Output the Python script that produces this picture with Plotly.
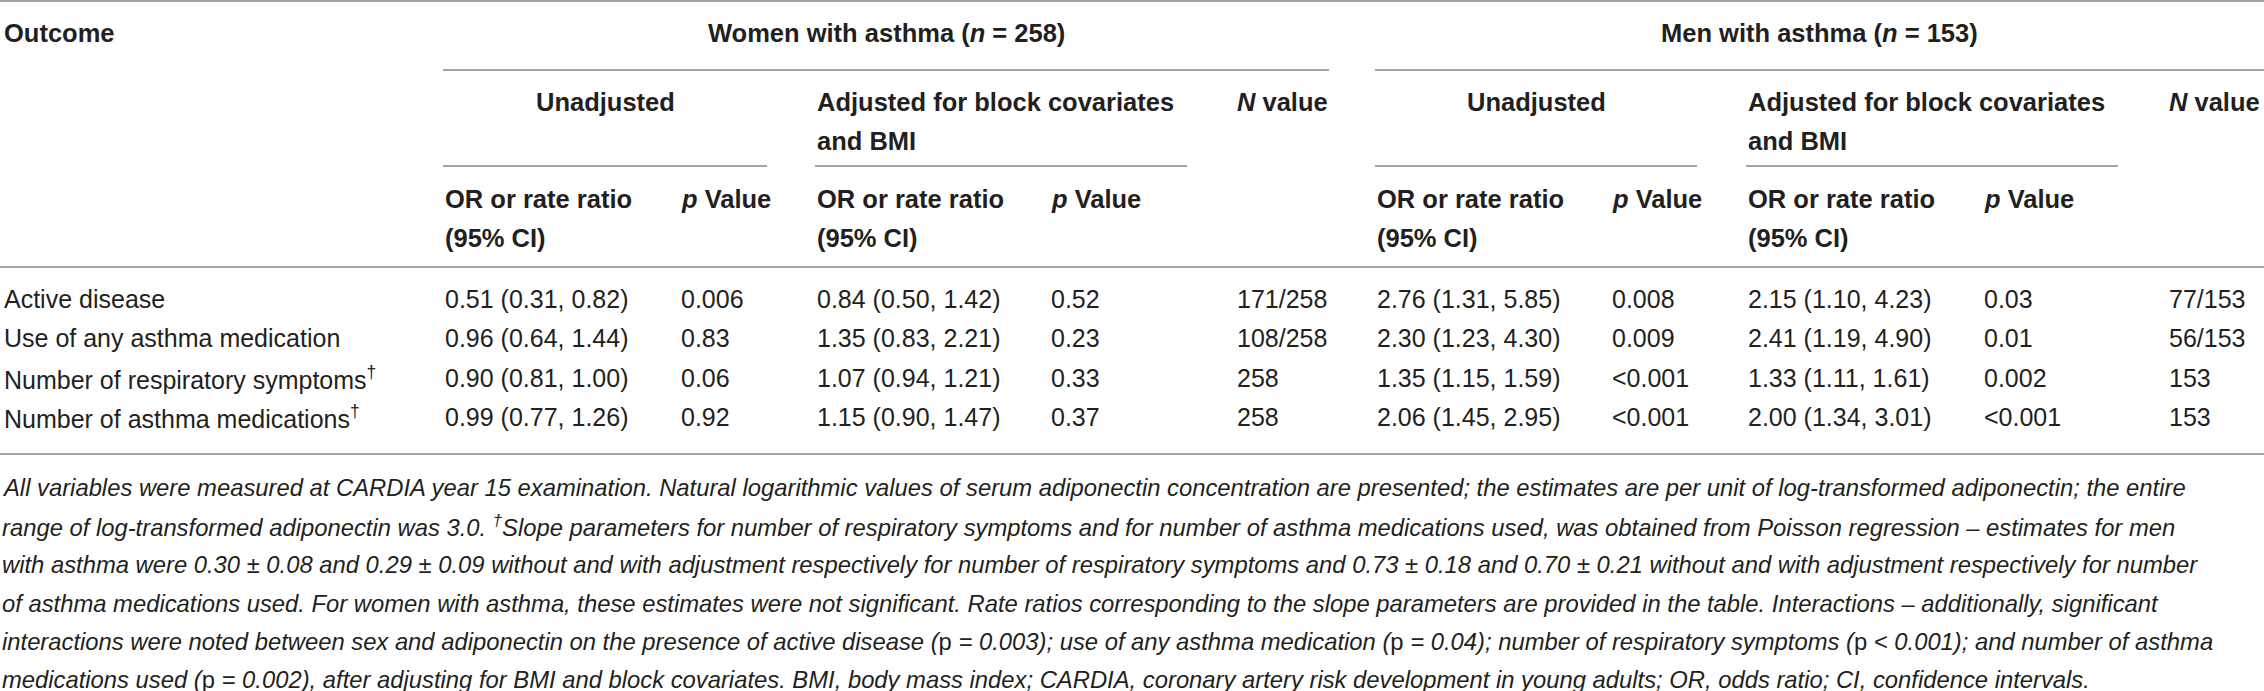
import plotly.graph_objects as go

# ---------------------------------------------------------------------------
# table data
# ---------------------------------------------------------------------------
outcomes = ["Active disease", "Use of any asthma medication",
            "Number of respiratory symptoms<sup>†</sup>",
            "Number of asthma medications<sup>†</sup>"]

women_unadj_or = ["0.51 (0.31, 0.82)", "0.96 (0.64, 1.44)", "0.90 (0.81, 1.00)", "0.99 (0.77, 1.26)"]
women_unadj_p = ["0.006", "0.83", "0.06", "0.92"]
women_adj_or = ["0.84 (0.50, 1.42)", "1.35 (0.83, 2.21)", "1.07 (0.94, 1.21)", "1.15 (0.90, 1.47)"]
women_adj_p = ["0.52", "0.23", "0.33", "0.37"]
women_n = ["171/258", "108/258", "258", "258"]

men_unadj_or = ["2.76 (1.31, 5.85)", "2.30 (1.23, 4.30)", "1.35 (1.15, 1.59)", "2.06 (1.45, 2.95)"]
men_unadj_p = ["0.008", "0.009", "<0.001", "<0.001"]
men_adj_or = ["2.15 (1.10, 4.23)", "2.41 (1.19, 4.90)", "1.33 (1.11, 1.61)", "2.00 (1.34, 3.01)"]
men_adj_p = ["0.03", "0.01", "0.002", "<0.001"]
men_n = ["77/153", "56/153", "153", "153"]

group_titles = ["Women with asthma (<i>n</i> = 258)", "Men with asthma (<i>n</i> = 153)"]

footnote_lines = [
    "All variables were measured at CARDIA year 15 examination. Natural logarithmic values of serum adiponectin "
    "concentration are presented; the estimates are per unit of log-transformed adiponectin; the entire",
    "range of log-transformed adiponectin was 3.0. <sup>†</sup>Slope parameters for number of respiratory symptoms "
    "and for number of asthma medications used, was obtained from Poisson regression – estimates for men",
    "with asthma were 0.30 ± 0.08 and 0.29 ± 0.09 without and with adjustment respectively for number of "
    "respiratory symptoms and 0.73 ± 0.18 and 0.70 ± 0.21 without and with adjustment respectively for number",
    "of asthma medications used. For women with asthma, these estimates were not significant. Rate ratios "
    "corresponding to the slope parameters are provided in the table. Interactions – additionally, significant",
    "interactions were noted between sex and adiponectin on the presence of active disease (p = 0.003); use of any "
    "asthma medication (p = 0.04); number of respiratory symptoms (p < 0.001); and number of asthma",
    "medications used (p = 0.002), after adjusting for BMI and block covariates. BMI, body mass index; CARDIA, "
    "coronary artery risk development in young adults; OR, odds ratio; CI, confidence intervals.",
]

# ---------------------------------------------------------------------------
# layout constants (pixels, y measured from the top)
# ---------------------------------------------------------------------------
W, H = 2264, 691
FONT = "Liberation Sans, Arial, Helvetica, sans-serif"
TEXT = "#231f20"
RULE = "#a3a3a3"

col_x = [2, 443, 679, 815, 1049, 1235, 1375, 1610, 1746, 1982, 2167]
row_y = [299, 338, 378, 417]
foot_y = [487, 526, 564, 603, 641, 679]


def esc(s):
    return s.replace("<0", "&lt;0").replace("p < ", "p &lt; ")


fig = go.Figure()
# invisible trace so the axes exist
fig.add_trace(go.Scatter(x=[0, W], y=[0, H], mode="markers",
                         marker=dict(opacity=0), hoverinfo="skip", showlegend=False))


def txt(x, y, s, size=25, anchor="left"):
    fig.add_annotation(x=x, y=y, xref="x", yref="y", text=s, showarrow=False,
                       xanchor=anchor, yanchor="middle", align=anchor,
                       font=dict(family=FONT, size=size, color=TEXT))


def rule(x0, x1, y):
    fig.add_shape(type="line", xref="x", yref="y", x0=x0, x1=x1, y0=y, y1=y,
                  line=dict(color=RULE, width=2))


# rules
rule(0, W, 1)
rule(col_x[1], 1329, 70)
rule(col_x[6], W, 70)
rule(col_x[1], 767, 166)
rule(col_x[3], 1187, 166)
rule(col_x[6], 1697, 166)
rule(col_x[8], 2118, 166)
rule(0, W, 267)
rule(0, W, 454)

# header
HB = 25.5
txt(col_x[0], 33, "<b>Outcome</b>", HB)
txt((col_x[1] + 1329) / 2, 33, "<b>" + group_titles[0] + "</b>", HB, "center")
txt((col_x[6] + W) / 2, 33, "<b>" + group_titles[1] + "</b>", HB, "center")

for g in (0, 1):
    base = 1 if g == 0 else 6
    end_unadj = 767 if g == 0 else 1697
    txt((col_x[base] + end_unadj) / 2, 102, "<b>Unadjusted</b>", HB, "center")
    txt(col_x[base + 2], 102, "<b>Adjusted for block covariates</b>", HB)
    txt(col_x[base + 2], 141, "<b>and BMI</b>", HB)
    txt(col_x[base + 4], 102, "<b><i>N</i> value</b>", HB)
    for k in (0, 2):
        txt(col_x[base + k], 199, "<b>OR or rate ratio</b>", HB)
        txt(col_x[base + k], 238, "<b>(95% CI)</b>", HB)
        txt(col_x[base + k + 1], 199, "<b><i>p</i> Value</b>", HB)

# body
columns = [outcomes, women_unadj_or, women_unadj_p, women_adj_or, women_adj_p, women_n,
           men_unadj_or, men_unadj_p, men_adj_or, men_adj_p, men_n]
for c, values in enumerate(columns):
    for r, v in enumerate(values):
        txt(col_x[c], row_y[r], esc(v), 25)

# footnote
for y, line in zip(foot_y, footnote_lines):
    line = esc(line).replace("(p ", "(<span style='font-style:normal'>p</span> ")
    txt(0, y, "<i>" + line + "</i>", 23.8)

fig.update_xaxes(range=[0, W], visible=False, fixedrange=True)
fig.update_yaxes(range=[H, 0], visible=False, fixedrange=True)
fig.update_layout(width=W, height=H, autosize=False,
                  margin=dict(l=0, r=0, t=0, b=0),
                  paper_bgcolor="white", plot_bgcolor="white")

fig.write_html("out.html", config={"displayModeBar": False},
               post_script="document.body.style.margin='0';document.body.style.overflow='hidden';")
